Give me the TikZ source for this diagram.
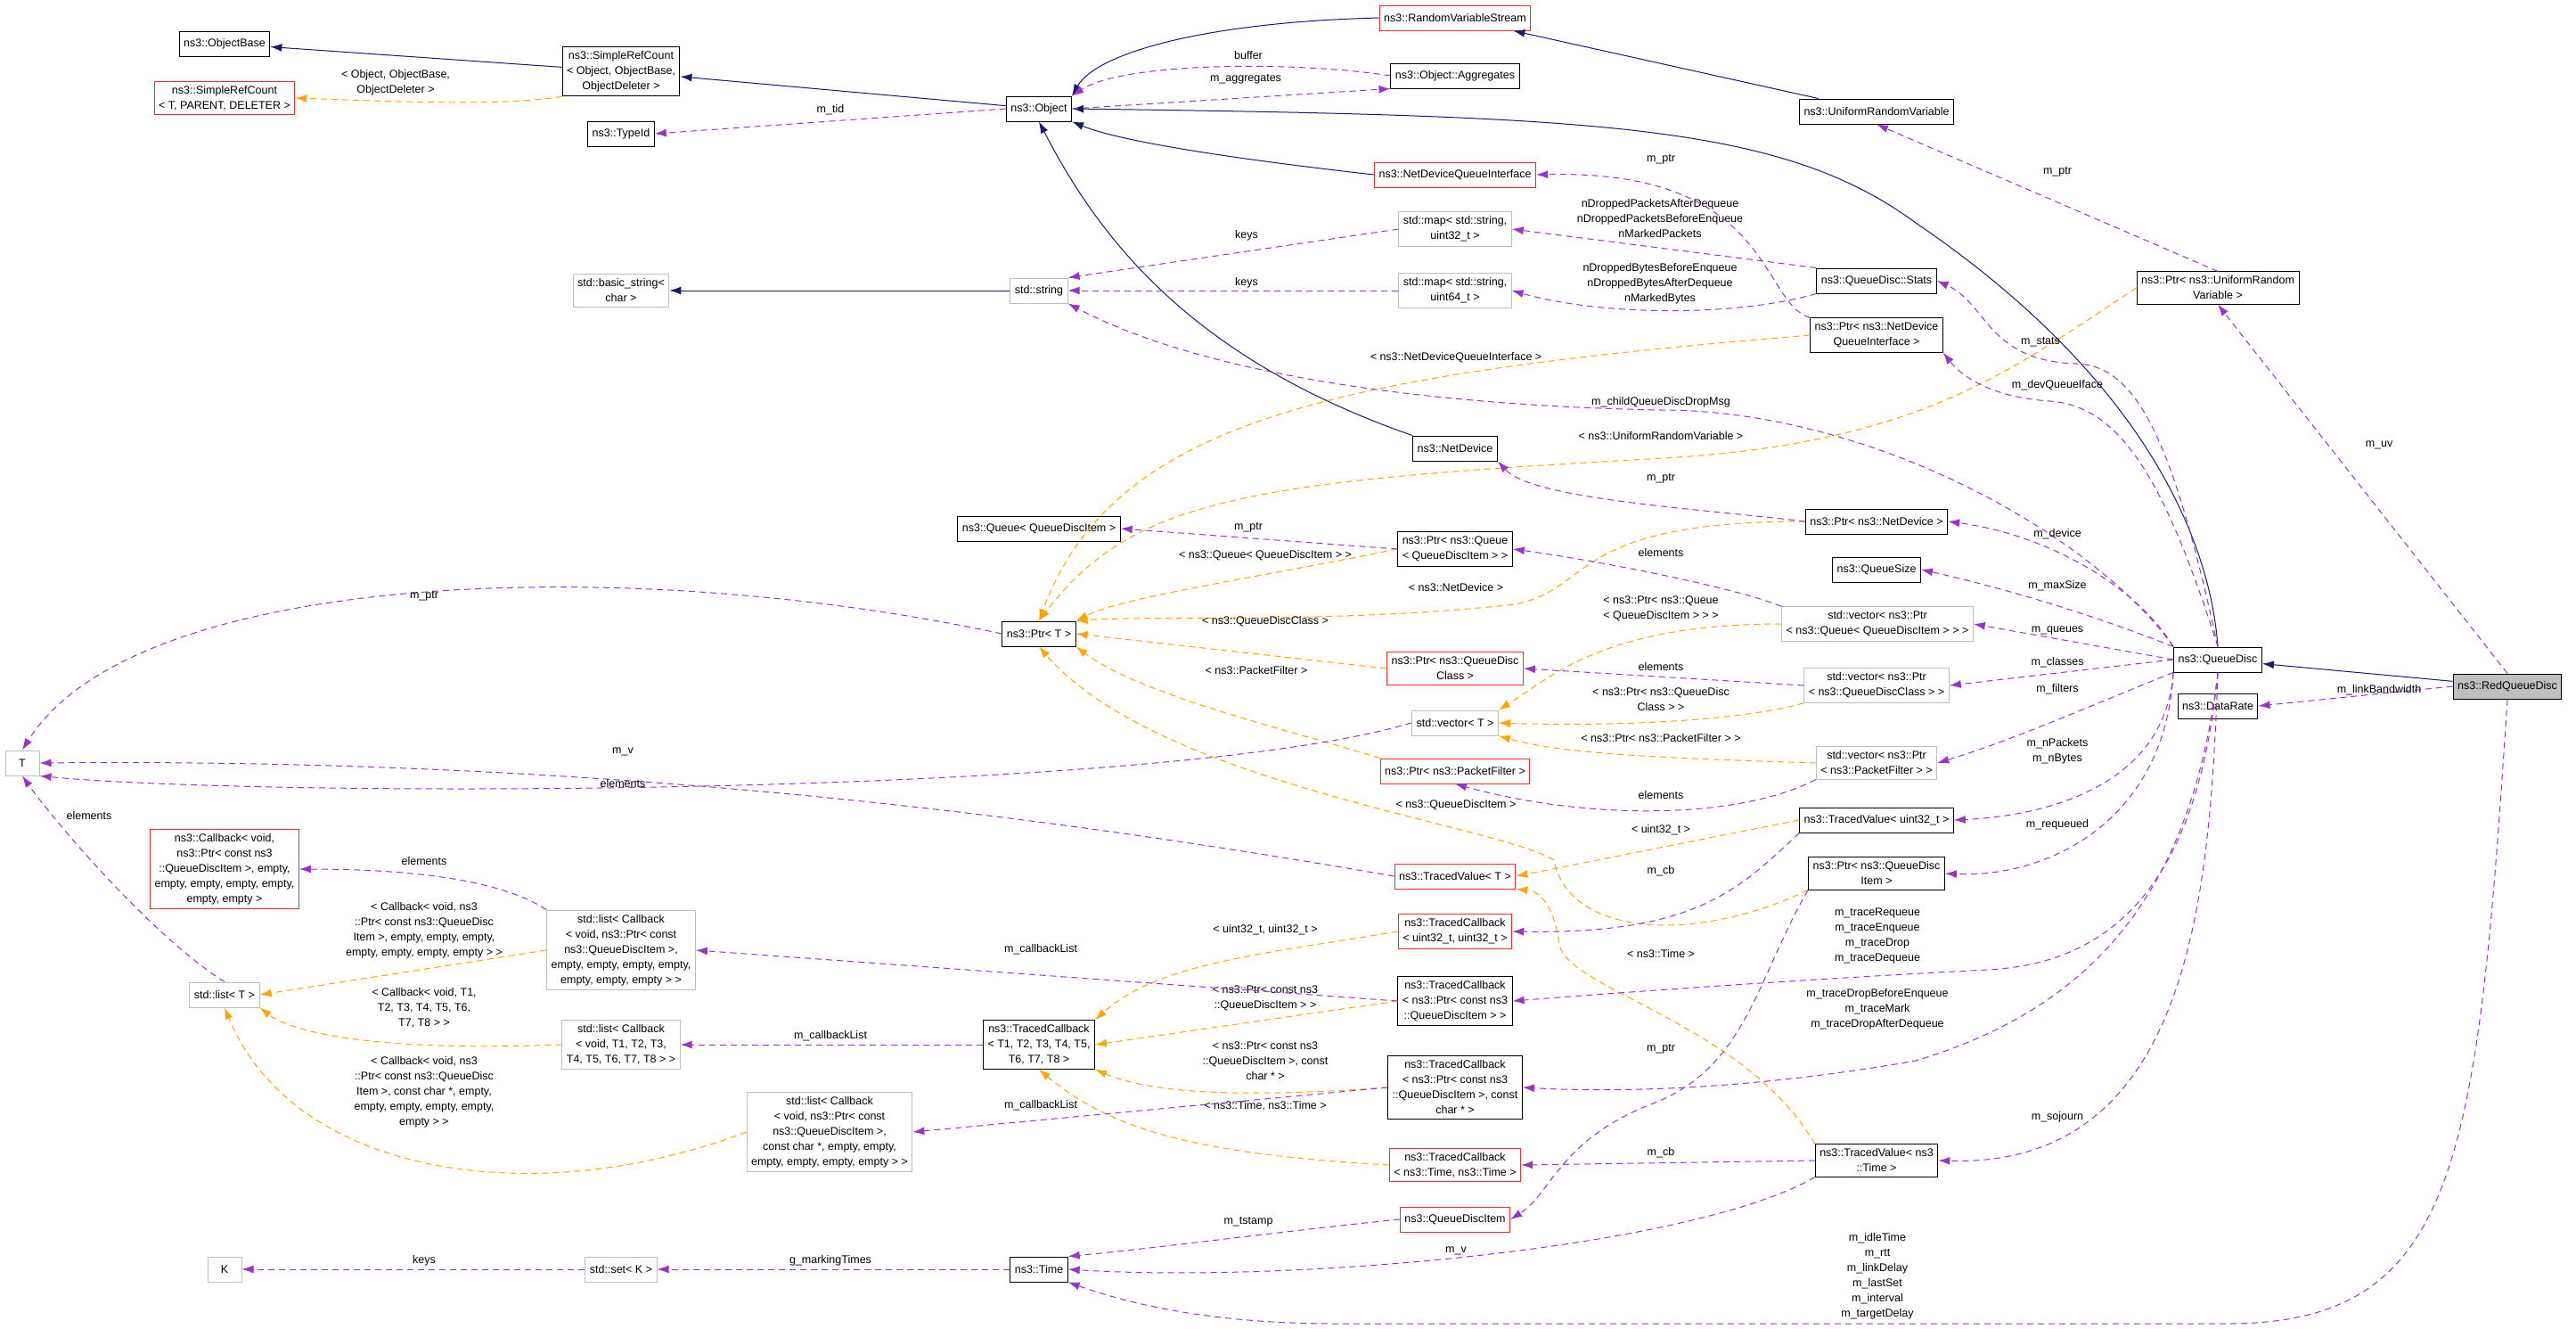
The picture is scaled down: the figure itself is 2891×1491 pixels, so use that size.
\documentclass[tikz,border=0pt]{standalone}
\usepackage{fontspec}
\setmainfont{Liberation Sans}
\usetikzlibrary{arrows.meta}
\definecolor{inhc}{RGB}{25,25,112}
\definecolor{usec}{RGB}{154,50,205}
\definecolor{tplc}{RGB}{255,165,0}
\definecolor{redc}{RGB}{255,40,40}
\definecolor{grayc}{RGB}{191,191,191}
\tikzset{
 every node/.style={font=\fontsize{12.5}{17}\selectfont, align=center},
 box/.style={draw=black, fill=white, line width=1pt, inner xsep=5pt, inner ysep=5pt, minimum height=28pt},
 rbox/.style={box, draw=redc},
 gbox/.style={box, draw=grayc},
 lbl/.style={inner sep=1pt},
 inh/.style={draw=inhc, line width=1pt, -{Latex[length=13pt,width=9pt]}},
 use/.style={draw=usec, line width=1pt, dash pattern=on 7pt off 5pt, -{Latex[length=13pt,width=9pt]}},
 tpl/.style={draw=tplc, line width=1pt, dash pattern=on 7pt off 5pt, -{Latex[length=13pt,width=9pt]}},
}
\begin{document}
\begin{tikzpicture}[x=1pt,y=-1pt]
\useasboundingbox[fill=white] (0,0) rectangle (2891,1491);
% nodes
\node[box] (objbase) at (252,49) {ns3::ObjectBase};
\node[rbox] (srct) at (252,110) {ns3::SimpleRefCount\\< T, PARENT, DELETER >};
\node[box] (srcobj) at (697,80) {ns3::SimpleRefCount\\< Object, ObjectBase,\\ObjectDeleter >};
\node[box] (typeid) at (697,150) {ns3::TypeId};
\node[box] (object) at (1166,122) {ns3::Object};
\node[gbox] (bstring) at (697,326) {std::basic\_string<\\char >};
\node[gbox] (string) at (1166,326) {std::string};
\node[box] (queue) at (1166,593) {ns3::Queue< QueueDiscItem >};
\node[box] (ptrT) at (1166,711) {ns3::Ptr< T >};
\node[rbox] (rvs) at (1633,20) {ns3::RandomVariableStream};
\node[box] (aggr) at (1633,85) {ns3::Object::Aggregates};
\node[box] (urv) at (2106,125) {ns3::UniformRandomVariable};
\node[rbox] (ndqi) at (1633,196) {ns3::NetDeviceQueueInterface};
\node[gbox] (map32) at (1633,257) {std::map< std::string,\\uint32\_t >};
\node[gbox] (map64) at (1633,326) {std::map< std::string,\\uint64\_t >};
\node[box] (stats) at (2106,315) {ns3::QueueDisc::Stats};
\node[box] (ptrurv) at (2489,323) {ns3::Ptr< ns3::UniformRandom\\Variable >};
\node[box] (ptrndqi) at (2106,376) {ns3::Ptr< ns3::NetDevice\\QueueInterface >};
\node[box] (netdev) at (1633,503) {ns3::NetDevice};
\node[box] (ptrnd) at (2106,585) {ns3::Ptr< ns3::NetDevice >};
\node[box] (ptrqueue) at (1633,616) {ns3::Ptr< ns3::Queue\\< QueueDiscItem > >};
\node[box] (qsize) at (2106,639) {ns3::QueueSize};
\node[gbox] (vecqueue) at (2107,700) {std::vector< ns3::Ptr\\< ns3::Queue< QueueDiscItem > > >};
\node[box] (qdisc) at (2489,740) {ns3::QueueDisc};
\node[rbox] (ptrclass) at (1633,750) {ns3::Ptr< ns3::QueueDisc\\Class >};
\node[gbox] (vecclass) at (2106,769) {std::vector< ns3::Ptr\\< ns3::QueueDiscClass > >};
\node[box, fill=grayc] (red) at (2814,770) {ns3::RedQueueDisc};
\node[box] (drate) at (2489,792) {ns3::DataRate};
\node[gbox] (vecT) at (1633,811) {std::vector< T >};
\node[gbox] (vecpf) at (2106,856) {std::vector< ns3::Ptr\\< ns3::PacketFilter > >};
\node[rbox] (ptrpf) at (1633,865) {ns3::Ptr< ns3::PacketFilter >};
\node[box] (tv32) at (2106,920) {ns3::TracedValue< uint32\_t >};
\node[box] (ptrqdi) at (2106,980) {ns3::Ptr< ns3::QueueDisc\\Item >};
\node[rbox] (tvT) at (1633,983) {ns3::TracedValue< T >};
\node[rbox] (tcu32) at (1633,1045) {ns3::TracedCallback\\< uint32\_t, uint32\_t >};
\node[box] (tcqdi) at (1633,1123) {ns3::TracedCallback\\< ns3::Ptr< const ns3\\::QueueDiscItem > >};
\node[box] (tcchar) at (1633,1220) {ns3::TracedCallback\\< ns3::Ptr< const ns3\\::QueueDiscItem >, const\\char * >};
\node[rbox] (tctime) at (1633,1307) {ns3::TracedCallback\\< ns3::Time, ns3::Time >};
\node[box] (tvtime) at (2106,1302) {ns3::TracedValue< ns3\\::Time >};
\node[rbox] (qdi) at (1633,1368) {ns3::QueueDiscItem};
\node[gbox, minimum width=38pt] (T) at (25,856) {T};
\node[rbox] (cbred) at (252,975) {ns3::Callback< void,\\ns3::Ptr< const ns3\\::QueueDiscItem >, empty,\\empty, empty, empty, empty,\\empty, empty >};
\node[gbox] (lcbqdi) at (697,1066) {std::list< Callback\\< void, ns3::Ptr< const\\ns3::QueueDiscItem >,\\empty, empty, empty, empty,\\empty, empty, empty > >};
\node[gbox] (listT) at (252,1116) {std::list< T >};
\node[gbox] (lcbT) at (697,1172) {std::list< Callback\\< void, T1, T2, T3,\\T4, T5, T6, T7, T8 > >};
\node[box] (tcT) at (1166,1172) {ns3::TracedCallback\\< T1, T2, T3, T4, T5,\\T6, T7, T8 >};
\node[gbox] (lcbchar) at (931,1270) {std::list< Callback\\< void, ns3::Ptr< const\\ns3::QueueDiscItem >,\\const char *, empty, empty,\\empty, empty, empty, empty > >};
\node[gbox, minimum width=38pt] (K) at (252,1424) {K};
\node[gbox] (setk) at (697,1424) {std::set< K >};
\node[box] (time) at (1166,1424) {ns3::Time};
% inheritance
\draw[inh] (srcobj) -- (objbase);
\draw[inh] (object) -- (srcobj);
\draw[inh] (rvs.west) .. controls (1350,25) and (1230,60) .. (object.north east);
\draw[inh] (urv) -- (rvs);
\draw[inh] (ndqi.west) .. controls (1400,180) and (1260,160) .. (object.south east);
\draw[inh] (netdev.north west) .. controls (1330,400) and (1230,260) .. (object.south);
\draw[inh] (qdisc.north) .. controls (2480,600) and (2400,420) .. (2150,250) .. controls (2000,140) and (1800,130) .. (object.east);
\draw[inh] (red) -- (qdisc);
\draw[inh] (string) -- (bstring);
% templates
\draw[tpl] (srcobj.south west) .. controls (560,120) and (420,113) .. (srct.east);
\node[lbl] (l1) at (444,93) {< Object, ObjectBase,\\ObjectDeleter >};
\draw[tpl] (ptrndqi.west) .. controls (1500,420) and (1250,470) .. (ptrT.north);
\node[lbl] (l2) at (1634,401) {< ns3::NetDeviceQueueInterface >};
\draw[tpl] (ptrurv.west) .. controls (2250,420) and (2150,500) .. (1850,515) .. controls (1400,540) and (1270,560) .. (ptrT.north);
\node[lbl] (l3) at (1864,489) {< ns3::UniformRandomVariable >};
\draw[tpl] (ptrnd.west) .. controls (1760,585) and (1790,660) .. (1700,678) .. controls (1500,700) and (1300,690) .. (ptrT.north east);
\node[lbl] (l4) at (1634,659) {< ns3::NetDevice >};
\draw[tpl] (ptrqueue.west) .. controls (1400,650) and (1260,670) .. (ptrT.north east);
\node[lbl] (l5) at (1420,623) {< ns3::Queue< QueueDiscItem > >};
\draw[tpl] (ptrclass.west) -- (ptrT.east);
\node[lbl] (l6) at (1420,697) {< ns3::QueueDiscClass >};
\draw[tpl] (ptrpf.north west) .. controls (1450,820) and (1280,780) .. (ptrT.south east);
\node[lbl] (l7) at (1410,752) {< ns3::PacketFilter >};
\draw[tpl] (ptrqdi.south west) .. controls (1900,1060) and (1760,1050) .. (1744,965) .. controls (1680,925) and (1300,880) .. (ptrT.south);
\node[lbl] (l8) at (1634,903) {< ns3::QueueDiscItem >};
\draw[tpl] (tvtime.north west) .. controls (1960,1150) and (1760,1110) .. (1750,1060) .. controls (1745,1020) and (1730,1000) .. (tvT.south east);
\node[lbl] (l9) at (1864,1070) {< ns3::Time >};
\draw[tpl] (tv32.west) -- (tvT.east);
\node[lbl] (l10) at (1864,931) {< uint32\_t >};
\draw[tpl] (vecqueue.west) .. controls (1800,700) and (1740,760) .. (vecT.north east);
\node[lbl] (l11) at (1864,683) {< ns3::Ptr< ns3::Queue\\< QueueDiscItem > > >};
\draw[tpl] (vecclass.south west) .. controls (1950,810) and (1800,815) .. (vecT.east);
\node[lbl] (l12) at (1864,785) {< ns3::Ptr< ns3::QueueDisc\\Class > >};
\draw[tpl] (vecpf.west) .. controls (1850,850) and (1750,845) .. (vecT.south east);
\node[lbl] (l13) at (1864,828) {< ns3::Ptr< ns3::PacketFilter > >};
\draw[tpl] (tcu32.west) .. controls (1420,1070) and (1300,1080) .. (tcT.north east);
\node[lbl] (l14) at (1420,1043) {< uint32\_t, uint32\_t >};
\draw[tpl] (tcqdi.west) -- (tcT.east);
\node[lbl] (l15) at (1420,1120) {< ns3::Ptr< const ns3\\::QueueDiscItem > >};
\draw[tpl] (tcchar.west) .. controls (1420,1230) and (1300,1230) .. (tcT.south east);
\node[lbl] (l16) at (1420,1190) {< ns3::Ptr< const ns3\\::QueueDiscItem >, const\\char * >};
\draw[tpl] (tctime.west) .. controls (1350,1295) and (1250,1270) .. (tcT.south);
\node[lbl] (l17) at (1420,1241) {< ns3::Time, ns3::Time >};
\draw[tpl] (lcbqdi.west) -- (listT.east);
\node[lbl] (l18) at (476,1044) {< Callback< void, ns3\\::Ptr< const ns3::QueueDisc\\Item >, empty, empty, empty,\\empty, empty, empty, empty > >};
\draw[tpl] (lcbT.west) .. controls (430,1180) and (330,1160) .. (listT.south east);
\node[lbl] (l19) at (476,1131) {< Callback< void, T1,\\T2, T3, T4, T5, T6,\\T7, T8 > >};
\draw[tpl] (lcbchar.west) .. controls (600,1360) and (330,1320) .. (listT.south);
\node[lbl] (l20) at (476,1225) {< Callback< void, ns3\\::Ptr< const ns3::QueueDisc\\Item >, const char *, empty,\\empty, empty, empty, empty,\\empty > >};
% usage
\draw[use] (object.west) -- (typeid.east);
\node[lbl] (u1) at (932,123) {m\_tid};
\draw[use] (aggr.west) .. controls (1450,68) and (1260,70) .. (object.north east);
\node[lbl] (u2) at (1401,62) {buffer};
\draw[use] (object.east) -- (aggr.south west);
\node[lbl] (u3) at (1398,89) {m\_aggregates};
\draw[use] (map32.west) -- (string.north east);
\node[lbl] (u4) at (1399,264) {keys};
\draw[use] (map64.west) -- (string.east);
\node[lbl] (u5) at (1399,317) {keys};
\draw[use] (stats.north west) -- (map32.east);
\node[lbl] (u6) at (1863,245) {nDroppedPacketsAfterDequeue\\nDroppedPacketsBeforeEnqueue\\nMarkedPackets};
\draw[use] (stats.south west) .. controls (1950,355) and (1800,355) .. (map64.east);
\node[lbl] (u7) at (1863,318) {nDroppedBytesBeforeEnqueue\\nDroppedBytesAfterDequeue\\nMarkedBytes};
\draw[use] (ptrndqi.north west) .. controls (1975,340) and (1990,190) .. (ndqi.east);
\node[lbl] (u8) at (1864,179) {m\_ptr};
\draw[use] (qdisc.north west) .. controls (2350,600) and (2100,460) .. (1864,460) .. controls (1600,455) and (1350,420) .. (string.south east);
\node[lbl] (u9) at (1864,451) {m\_childQueueDiscDropMsg};
\draw[use] (ptrurv.north) -- (urv.south);
\node[lbl] (u10) at (2309,193) {m\_ptr};
\draw[use] (qdisc.north) .. controls (2440,500) and (2400,410) .. (2330,408) .. controls (2230,405) and (2230,340) .. (stats.east);
\node[lbl] (u11) at (2290,384) {m\_stats};
\draw[use] (qdisc.north) .. controls (2430,540) and (2380,455) .. (2300,450) .. controls (2230,445) and (2200,420) .. (ptrndqi.south east);
\node[lbl] (u12) at (2309,432) {m\_devQueueIface};
\draw[use] (red.north) -- (ptrurv.south);
\node[lbl] (u13) at (2670,499) {m\_uv};
\draw[use] (ptrnd.west) .. controls (1900,570) and (1720,560) .. (netdev.south east);
\node[lbl] (u14) at (1864,537) {m\_ptr};
\draw[use] (qdisc.north west) .. controls (2400,660) and (2300,600) .. (ptrnd.east);
\node[lbl] (u15) at (2309,599) {m\_device};
\draw[use] (ptrqueue.west) -- (queue.east);
\node[lbl] (u16) at (1401,592) {m\_ptr};
\draw[use] (vecqueue.north west) .. controls (1950,660) and (1800,630) .. (ptrqueue.east);
\node[lbl] (u17) at (1864,620) {elements};
\draw[use] (qdisc.north west) .. controls (2350,690) and (2250,660) .. (qsize.east);
\node[lbl] (u18) at (2309,657) {m\_maxSize};
\draw[use] (qdisc.west) -- (vecqueue.east);
\node[lbl] (u19) at (2309,707) {m\_queues};
\draw[use] (qdisc.west) -- (vecclass.east);
\node[lbl] (u20) at (2309,743) {m\_classes};
\draw[use] (vecclass.west) -- (ptrclass.east);
\node[lbl] (u21) at (1864,748) {elements};
\draw[use] (red.west) -- (drate.east);
\node[lbl] (u22) at (2670,774) {m\_linkBandwidth};
\draw[use] (qdisc.south west) .. controls (2350,790) and (2260,830) .. (vecpf.east);
\node[lbl] (u23) at (2309,773) {m\_filters};
\draw[use] (vecpf.south west) .. controls (1950,920) and (1780,920) .. (ptrpf.south);
\node[lbl] (u24) at (1864,892) {elements};
\draw[use] (qdisc.south west) .. controls (2430,880) and (2300,915) .. (tv32.east);
\node[lbl] (u25) at (2309,843) {m\_nPackets\\m\_nBytes};
\draw[use] (qdisc.south west) .. controls (2430,920) and (2300,985) .. (ptrqdi.east);
\node[lbl] (u26) at (2309,925) {m\_requeued};
\draw[use] (tv32.south west) .. controls (1950,1000) and (1900,1048) .. (tcu32.east);
\node[lbl] (u27) at (1864,977) {m\_cb};
\draw[use] (qdisc.south) .. controls (2470,950) and (2400,1080) .. (2230,1088) .. controls (2000,1100) and (1800,1115) .. (tcqdi.east);
\node[lbl] (u28) at (2107,1050) {m\_traceRequeue\\m\_traceEnqueue\\m\_traceDrop\\m\_traceDequeue};
\draw[use] (qdisc.south) .. controls (2460,1000) and (2350,1130) .. (2150,1190) .. controls (1950,1225) and (1800,1225) .. (tcchar.east);
\node[lbl] (u29) at (2107,1132) {m\_traceDropBeforeEnqueue\\m\_traceMark\\m\_traceDropAfterDequeue};
\draw[use] (ptrqdi.south west) .. controls (1970,1100) and (1960,1200) .. (1850,1240) .. controls (1750,1280) and (1740,1340) .. (qdi.east);
\node[lbl] (u30) at (1864,1177) {m\_ptr};
\draw[use] (qdisc.south) .. controls (2480,1000) and (2460,1310) .. (tvtime.east);
\node[lbl] (u31) at (2309,1253) {m\_sojourn};
\draw[use] (tvtime.west) -- (tctime.east);
\node[lbl] (u32) at (1864,1293) {m\_cb};
\draw[use] (qdi.west) .. controls (1450,1380) and (1300,1400) .. (time.north east);
\node[lbl] (u33) at (1401,1371) {m\_tstamp};
\draw[use] (tvtime.south west) .. controls (1900,1400) and (1450,1440) .. (time.east);
\node[lbl] (u34) at (1634,1403) {m\_v};
\draw[use] (red.south) .. controls (2780,1300) and (2760,1485) .. (2500,1485) -- (1500,1485) .. controls (1350,1485) and (1260,1460) .. (time.south east);
\node[lbl] (u35) at (2107,1432) {m\_idleTime\\m\_rtt\\m\_linkDelay\\m\_lastSet\\m\_interval\\m\_targetDelay};
\draw[use] (time.west) -- (setk.east);
\node[lbl] (u36) at (932,1414) {g\_markingTimes};
\draw[use] (setk.west) -- (K.east);
\node[lbl] (u37) at (476,1414) {keys};
\draw[use] (ptrT.west) .. controls (700,620) and (150,640) .. (T.north);
\node[lbl] (u38) at (476,669) {m\_ptr};
\draw[use] (tvT.west) .. controls (1200,920) and (700,850) .. (T.east);
\node[lbl] (u39) at (699,843) {m\_v};
\draw[use] (vecT.west) .. controls (1300,895) and (300,895) .. (T.south east);
\node[lbl] (u40) at (699,879) {elements};
\draw[use] (listT.north) .. controls (170,1050) and (60,920) .. (T.south);
\node[lbl] (u41) at (100,915) {elements};
\draw[use] (lcbqdi.north west) .. controls (560,985) and (450,975) .. (cbred.east);
\node[lbl] (u42) at (476,966) {elements};
\draw[use] (tcqdi.west) -- (lcbqdi.east);
\node[lbl] (u43) at (1168,1065) {m\_callbackList};
\draw[use] (tcT.west) -- (lcbT.east);
\node[lbl] (u44) at (932,1162) {m\_callbackList};
\draw[use] (tcchar.west) -- (lcbchar.east);
\node[lbl] (u45) at (1168,1240) {m\_callbackList};
\end{tikzpicture}
\end{document}
